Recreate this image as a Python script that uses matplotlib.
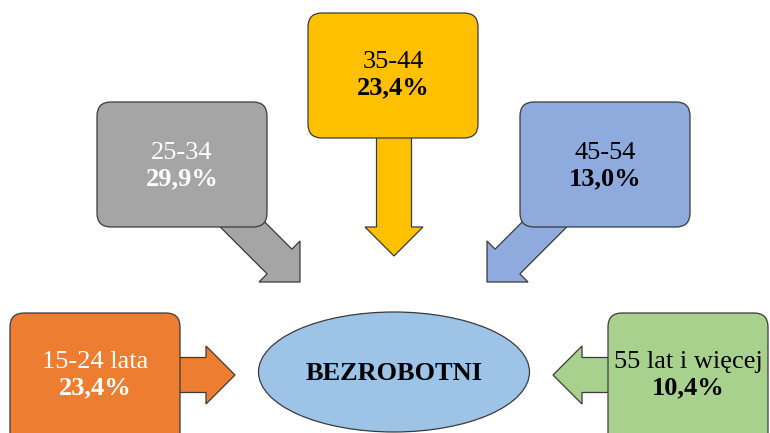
import matplotlib.pyplot as plt
from matplotlib.patches import FancyBboxPatch, FancyArrow, Ellipse

plt.rcParams['font.family'] = ['Liberation Serif', 'DejaVu Serif']

# dane
labels = ['15-24 lata', '25-34', '35-44', '45-54', '55 lat i więcej']
values = [23.4, 29.9, 23.4, 13.0, 10.4]
colors = ['#ED7D31', '#A5A5A5', '#FFC000', '#8FAADC', '#A9D18E']
text_colors = ['white', 'white', 'black', 'black', 'black']
center_label = 'BEZROBOTNI'

# uklad (piksele)
boxes = [(10, 313, 170, 140), (97, 102, 170, 125), (308, 13, 170, 125),
         (520, 102, 170, 125), (608, 313, 160, 140)]
text_y = [362, 153, 62, 153, 362]
arrows = [((170, 375), (235, 375)), ((228, 210), (300, 282)),
          ((394, 130), (394, 256)), ((559, 210), (487, 282)),
          ((618, 375), (553, 375))]
edge = '#3a3a3a'

fig = plt.figure(figsize=(7.7, 4.33), dpi=100)
ax = fig.add_axes([0, 0, 1, 1])
ax.set_xlim(0, 770)
ax.set_ylim(433, 0)
ax.axis('off')

for i in range(len(labels)):
    (x0, y0), (x1, y1) = arrows[i]
    ar = FancyArrow(x0, y0, x1 - x0, y1 - y0, width=35, head_width=58,
                    head_length=29, length_includes_head=True,
                    facecolor=colors[i], edgecolor=edge, linewidth=0.9, zorder=1)
    ax.add_patch(ar)
    bx, by, bw, bh = boxes[i]
    box = FancyBboxPatch((bx, by), bw, bh, boxstyle='round,pad=0,rounding_size=14',
                         facecolor=colors[i], edgecolor=edge, linewidth=0.9, zorder=2)
    ax.add_patch(box)
    cx = bx + bw / 2
    ax.text(cx, text_y[i], labels[i], ha='center', va='center', fontsize=19,
            color=text_colors[i], zorder=3)
    ax.text(cx, text_y[i] + 26, f'{values[i]:.1f}%'.replace('.', ','),
            ha='center', va='center', fontsize=19, fontweight='bold',
            color=text_colors[i], zorder=3)

ell = Ellipse((394, 372), 271, 120, facecolor='#9DC3E6', edgecolor=edge,
              linewidth=0.9, zorder=2)
ax.add_patch(ell)
ax.text(394, 374, center_label, ha='center', va='center', fontsize=19,
        fontweight='bold', color='black', zorder=3)

fig.savefig('out.png', dpi=100, facecolor='white')
